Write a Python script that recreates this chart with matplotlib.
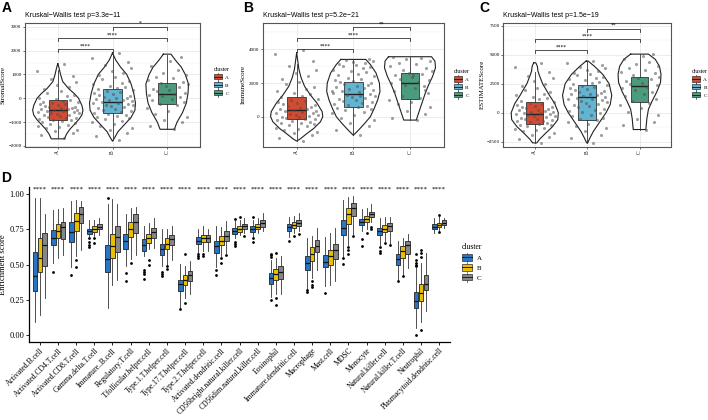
import matplotlib
matplotlib.use("Agg")
import matplotlib.pyplot as plt
from matplotlib.legend_handler import HandlerBase
from matplotlib.lines import Line2D
from matplotlib.patches import Patch, Rectangle

plt.rcParams["font.family"] = ["Liberation Serif", "DejaVu Serif"]
plt.rcParams["axes.unicode_minus"] = True
SANS = ["Liberation Sans", "DejaVu Sans"]

# ---------------- data: panels A-C ----------------
clusters = ["A", "B", "C"]
top_colors = ["#D24B32", "#62B4D0", "#4B9B7C"]

# shared jitter offsets (x units) for the dots
jitter = [0.12, -0.31, 0.27, -0.05, 0.36, -0.22, 0.02, -0.37, 0.18, -0.14,
          0.31, -0.28, 0.08, 0.24, -0.09, -0.34, 0.15, 0.33, -0.18, 0.04,
          -0.26, 0.21, -0.02, 0.38, -0.12, 0.29, -0.36, 0.10, -0.20, 0.35,
          -0.07, 0.19, -0.30, 0.06, 0.26, -0.16, 0.32, -0.24, 0.00, -0.33,
          0.14, -0.10, 0.37, -0.27, 0.09, 0.23, -0.04, -0.35, 0.17, 0.30,
          -0.19, 0.05, -0.25, 0.20, -0.01, 0.34, -0.13, 0.28, -0.38, 0.11]

# StromalScore
stromal_violin = [
    [(1450, 0.0), (1300, 0.02), (1000, 0.05), (700, 0.09), (400, 0.2), (200, 0.3),
     (0, 0.38), (-300, 0.44), (-500, 0.46), (-700, 0.44), (-900, 0.38),
     (-1100, 0.3), (-1300, 0.22), (-1500, 0.16), (-1700, 0.12)],
    [(1900, 0.0), (1600, 0.06), (1300, 0.15), (1000, 0.26), (600, 0.34), (200, 0.39),
     (-200, 0.42), (-500, 0.41), (-800, 0.34), (-1100, 0.22), (-1400, 0.1),
     (-1650, 0.04), (-1800, 0.0)],
    [(1850, 0.07), (1600, 0.15), (1300, 0.26), (1000, 0.33), (600, 0.39), (200, 0.38),
     (-200, 0.35), (-600, 0.28), (-1000, 0.18), (-1300, 0.13)],
]
stromal_q1 = [-917, -608, -221]
stromal_med = [-500, -150, 183]
stromal_q3 = [-54, 392, 642]
stromal_lo = [-1680, -1750, -1290]
stromal_hi = [1200, 1890, 1820]
stromal_pts = [
    [-1680, -1560, -1450, -1380, -1320, -1260, -1210, -1160, -1120, -1080, -1040, -1000,
     -960, -930, -900, -870, -840, -810, -780, -750, -720, -690, -660, -630, -600, -580,
     -560, -540, -520, -500, -480, -460, -440, -420, -395, -370, -345, -320, -290, -260,
     -230, -200, -170, -140, -100, -60, -20, 30, 90, 150, 220, 300, 380, 470, 570, 680,
     800, 950, 1150, 1430],
    [-1750, -1600, -1450, -1350, -1250, -1150, -1080, -1000, -940, -880, -830, -780, -730,
     -690, -650, -610, -570, -530, -490, -450, -410, -370, -330, -300, -270, -240, -210,
     -180, -150, -120, -90, -60, -30, 0, 30, 70, 110, 150, 190, 230, 270, 310, 350, 390,
     430, 480, 530, 590, 650, 720, 800, 880, 960, 1050, 1150, 1260, 1380, 1520, 1700, 1880],
    [-1290, -1150, -1000, -900, -780, -650, -520, -400, -300, -220, -150, -80, -20, 40,
     100, 150, 190, 240, 290, 340, 400, 460, 520, 580, 640, 700, 760, 830, 900, 980,
     1080, 1200, 1350, 1550, 1750],
]
stromal_sig_y = [2070, 2520, 3000]
stromal_sig = ["****", "****", "*"]

# ImmuneScore
immune_violin = [
    [(3800, 0.0), (3300, 0.02), (2800, 0.04), (2300, 0.08), (1800, 0.14), (1300, 0.24),
     (800, 0.36), (300, 0.45), (0, 0.46), (-300, 0.42), (-700, 0.3), (-1000, 0.18),
     (-1300, 0.07), (-1450, 0.0)],
    [(3400, 0.22), (3100, 0.3), (2600, 0.4), (2000, 0.46), (1500, 0.47), (1000, 0.43),
     (500, 0.37), (0, 0.3), (-400, 0.2), (-800, 0.09), (-1100, 0.0)],
    [(3560, 0.38), (3300, 0.44), (2900, 0.45), (2400, 0.4), (1900, 0.33), (1400, 0.27),
     (900, 0.22), (400, 0.17), (0, 0.13), (-200, 0.11)],
]
immune_q1 = [-155, 558, 1033]
immune_med = [400, 1347, 2018]
immune_q3 = [1150, 2077, 2611]
immune_lo = [-1450, -1080, -200]
immune_hi = [3100, 3400, 3560]
immune_pts = [
    [-1450, -1250, -1100, -980, -880, -800, -720, -650, -580, -520, -460, -400, -350,
     -300, -250, -200, -160, -120, -80, -40, 0, 40, 80, 120, 160, 200, 240, 280, 320,
     360, 400, 440, 480, 530, 580, 630, 680, 740, 800, 860, 930, 1000, 1080, 1150, 1230,
     1320, 1420, 1530, 1650, 1780, 1920, 2080, 2250, 2420, 2600, 2800, 3000, 3300, 3750, 3950],
    [-1080, -800, -550, -350, -200, -50, 80, 200, 300, 380, 450, 520, 580, 640, 700, 760,
     820, 880, 940, 1000, 1060, 1120, 1180, 1240, 1300, 1350, 1400, 1460, 1520, 1580,
     1640, 1700, 1760, 1820, 1880, 1940, 2000, 2060, 2120, 2180, 2250, 2320, 2400, 2480,
     2560, 2640, 2720, 2800, 2880, 2950, 3020, 3080, 3140, 3200, 3260, 3320, 3380, 3400,
     1550, 1250],
    [-200, -50, 150, 350, 550, 750, 900, 1000, 1100, 1250, 1400, 1550, 1700, 1800, 1900,
     2000, 2050, 2150, 2250, 2350, 2450, 2550, 2600, 2700, 2800, 2900, 3000, 3100, 3200,
     3300, 3400, 3500, 3550, 2500, 1600],
]
immune_sig_y = [4000, 4650, 5300]
immune_sig = ["****", "****", "**"]

# ESTIMATEScore
estimate_violin = [
    [(4300, 0.02), (4000, 0.05), (3600, 0.06), (3200, 0.09), (2500, 0.15), (1500, 0.28),
     (800, 0.38), (0, 0.45), (-600, 0.44), (-1200, 0.34), (-1800, 0.2), (-2300, 0.09),
     (-2600, 0.04)],
    [(4450, 0.02), (4000, 0.14), (3300, 0.3), (2500, 0.42), (1500, 0.47), (700, 0.44),
     (0, 0.36), (-800, 0.24), (-1600, 0.12), (-2200, 0.05), (-2600, 0.01)],
    [(5050, 0.17), (4600, 0.3), (4000, 0.38), (3300, 0.41), (2600, 0.4), (1800, 0.33),
     (1000, 0.24), (300, 0.17), (-500, 0.14), (-1000, 0.13), (-1450, 0.12)],
]
estimate_q1 = [-974, -629, 948]
estimate_med = [-112, 1327, 2302]
estimate_q3 = [897, 2388, 3103]
estimate_lo = [-2600, -2600, -1450]
estimate_hi = [3500, 4440, 5050]
estimate_pts = [
    [-2600, -2300, -2100, -1900, -1750, -1600, -1480, -1380, -1280, -1180, -1100, -1020,
     -950, -880, -810, -740, -680, -620, -560, -500, -440, -380, -320, -260, -200, -150,
     -100, -50, 0, 50, 100, 150, 200, 260, 320, 380, 450, 520, 600, 680, 760, 850, 950,
     1050, 1150, 1260, 1380, 1500, 1630, 1780, 1950, 2100, 2300, 2500, 2700, 2950, 3200,
     3500, 3900, 4300],
    [-2600, -2200, -1900, -1600, -1350, -1150, -950, -800, -660, -540, -420, -300, -180,
     -60, 50, 160, 260, 360, 450, 540, 630, 720, 810, 900, 980, 1060, 1140, 1220, 1300,
     1370, 1440, 1510, 1580, 1650, 1730, 1810, 1890, 1970, 2050, 2130, 2220, 2310, 2400,
     2490, 2580, 2680, 2780, 2880, 2990, 3100, 3220, 3340, 3460, 3580, 3700, 3830, 3960,
     4100, 4250, 4440],
    [-1450, -1100, -800, -500, -200, 100, 400, 650, 850, 1000, 1200, 1400, 1600, 1800,
     1950, 2100, 2250, 2350, 2450, 2600, 2750, 2900, 3000, 3100, 3250, 3400, 3550, 3700,
     3850, 4000, 4200, 4400, 4600, 4850, 5050],
]
estimate_sig_y = [5400, 6330, 7240]
estimate_sig = ["****", "****", "**"]

sig_pairs = [(1, 2), (1, 3), (2, 3)]

# ---------------- data: panel D ----------------
cells = ["Activated.B.cell", "Activated.CD4.T.cell", "Activated.CD8.T.cell",
         "Gamma.delta.T.cell", "Immature..B.cell", "Regulatory.T.cell",
         "T.follicular.helper.cell", "Type.1.T.helper.cell", "Type.17.T.helper.cell",
         "Type.2.T.helper.cell", "Activated.dendritic.cell",
         "CD56bright.natural.killer.cell", "CD56dim.natural.killer.cell", "Eosinophil",
         "Immature.dendritic.cell", "Macrophage", "Mast.cell", "MDSC", "Monocyte",
         "Natural.killer.cell", "Natural.killer.T.cell", "Neutrophil",
         "Plasmacytoid.dendritic.cell"]
d_signif = ["****"] * 23
d_colors = ["#2874C5", "#EABF00", "#868686"]

a_q1 = [0.31, 0.64, 0.66, 0.72, 0.45, 0.61, 0.60, 0.57, 0.31, 0.65, 0.58, 0.72, 0.73,
        0.36, 0.74, 0.46, 0.48, 0.71, 0.78, 0.71, 0.50, 0.19, 0.75]
a_med = [0.42, 0.69, 0.73, 0.74, 0.54, 0.67, 0.64, 0.61, 0.36, 0.67, 0.63, 0.74, 0.75,
         0.405, 0.77, 0.51, 0.52, 0.76, 0.805, 0.74, 0.54, 0.24, 0.77]
a_q3 = [0.59, 0.745, 0.805, 0.757, 0.64, 0.72, 0.68, 0.65, 0.39, 0.695, 0.67, 0.76, 0.775,
        0.44, 0.786, 0.56, 0.567, 0.82, 0.826, 0.76, 0.576, 0.305, 0.79]
a_lo = [0.09, 0.51, 0.48, 0.70, 0.195, 0.49, 0.56, 0.49, 0.19, 0.58, 0.48, 0.69, 0.70,
        0.27, 0.695, 0.33, 0.345, 0.55, 0.74, 0.64, 0.39, 0.05, 0.726]
a_hi = [0.975, 0.886, 0.95, 0.817, 0.93, 0.857, 0.774, 0.75, 0.507, 0.75, 0.774, 0.81,
        0.82, 0.53, 0.838, 0.69, 0.70, 0.957, 0.893, 0.833, 0.667, 0.476, 0.833]
a_out = [[], [0.445], [0.426], [0.686, 0.662, 0.643, 0.629], [0.971], [0.44, 0.386],
         [0.464, 0.448, 0.433, 0.40], [0.448, 0.433, 0.417], [0.186], [0.576, 0.562, 0.55],
         [0.462, 0.424], [0.826, 0.662, 0.648, 0.631], [0.838, 0.686, 0.662],
         [0.576, 0.567, 0.552, 0.25], [0.671], [0.321, 0.305], [0.295], [0.548, 0.505],
         [0.679, 0.636], [0.626, 0.60, 0.583], [0.386],
         [0.576, 0.536, 0.512, 0.50, 0.488, 0.0], []]

b_q1 = [0.45, 0.686, 0.738, 0.733, 0.548, 0.695, 0.652, 0.614, 0.352, 0.662, 0.643, 0.733,
        0.75, 0.393, 0.762, 0.529, 0.50, 0.79, 0.805, 0.733, 0.548, 0.243, 0.767]
b_med = [0.548, 0.738, 0.81, 0.755, 0.631, 0.75, 0.688, 0.65, 0.388, 0.69, 0.671, 0.755,
         0.769, 0.433, 0.781, 0.576, 0.56, 0.857, 0.826, 0.757, 0.595, 0.298, 0.781]
b_q3 = [0.69, 0.79, 0.869, 0.774, 0.719, 0.805, 0.721, 0.686, 0.424, 0.714, 0.702, 0.774,
        0.786, 0.471, 0.802, 0.626, 0.607, 0.90, 0.845, 0.781, 0.633, 0.362, 0.798]
b_lo = [0.143, 0.548, 0.56, 0.702, 0.357, 0.543, 0.612, 0.50, 0.262, 0.595, 0.56, 0.714,
        0.726, 0.29, 0.726, 0.405, 0.357, 0.638, 0.75, 0.667, 0.429, 0.095, 0.738]
b_hi = [0.976, 0.893, 0.957, 0.821, 0.964, 0.90, 0.798, 0.755, 0.493, 0.774, 0.767, 0.821,
        0.833, 0.548, 0.845, 0.702, 0.726, 0.981, 0.90, 0.838, 0.69, 0.512, 0.845]
b_out = [[], [], [0.536, 0.481], [0.686, 0.657], [], [0.512], [0.536, 0.495], [0.49, 0.47],
         [0.576, 0.226], [0.576, 0.56], [0.548, 0.512], [0.838], [], [0.583, 0.262, 0.214],
         [0.702], [0.381, 0.357, 0.338], [], [0.624, 0.607, 0.576], [0.726], [0.655],
         [0.421], [0.607, 0.583, 0.552, 0.036], [0.85, 0.733]]

c_q1 = [0.488, 0.683, 0.798, 0.75, 0.59, 0.726, 0.69, 0.638, 0.381, 0.662, 0.671, 0.755,
        0.767, 0.40, 0.774, 0.588, 0.543, 0.845, 0.838, 0.738, 0.576, 0.321, 0.781]
c_med = [0.638, 0.769, 0.862, 0.769, 0.698, 0.802, 0.733, 0.681, 0.424, 0.69, 0.707, 0.774,
         0.793, 0.448, 0.798, 0.631, 0.607, 0.90, 0.857, 0.774, 0.643, 0.362, 0.798]
c_q3 = [0.726, 0.805, 0.912, 0.786, 0.774, 0.857, 0.762, 0.714, 0.457, 0.714, 0.738, 0.79,
        0.814, 0.488, 0.817, 0.674, 0.648, 0.94, 0.876, 0.798, 0.671, 0.424, 0.814]
c_lo = [0.262, 0.567, 0.607, 0.714, 0.393, 0.567, 0.619, 0.536, 0.29, 0.595, 0.583, 0.726,
        0.738, 0.29, 0.738, 0.464, 0.381, 0.719, 0.80, 0.648, 0.476, 0.167, 0.762]
c_hi = [0.857, 0.90, 0.952, 0.833, 0.929, 0.912, 0.833, 0.774, 0.524, 0.75, 0.81, 0.829,
        0.869, 0.56, 0.864, 0.762, 0.762, 0.988, 0.933, 0.84, 0.719, 0.583, 0.833]
c_out = [[], [], [], [], [], [], [], [], [], [], [0.571], [0.702], [], [], [0.719], [], [],
         [0.702], [0.768, 0.757], [0.638], [], [], []]


class BoxKey(HandlerBase):
    """legend key that looks like a small boxplot"""

    def create_artists(self, legend, orig_handle, xdescent, ydescent, width, height,
                       fontsize, trans):
        cx = width / 2 - xdescent
        y0 = -ydescent
        stem = Line2D([cx, cx], [y0 - 0.25 * height, y0 + 1.25 * height],
                      color="#333333", lw=0.5, transform=trans)
        box = Rectangle((-xdescent, y0), width, height, facecolor=orig_handle.get_facecolor(),
                        edgecolor="#333333", lw=0.5, transform=trans)
        mid = Line2D([-xdescent, width - xdescent], [y0 + height / 2] * 2,
                     color="#222222", lw=0.7, transform=trans)
        return [stem, box, mid]


def draw_top(ax, violin, pts, q1, med, q3, lo, hi, ylim, yticks, ylabel, title,
             sig_y, sig, label_x):
    for i in range(3):
        x = i + 1
        ys = [p[0] for p in violin[i]]
        ws = [p[1] for p in violin[i]]
        left = [x - w for w in ws]
        right = [x + w for w in ws]
        ax.fill_betweenx(ys, left, right, facecolor="white", edgecolor="none", zorder=2)
        ax.plot(left + right[::-1] + [left[0]], ys + ys[::-1] + [ys[0]],
                color="#222222", lw=0.8, zorder=2.5)
        ax.bxp([dict(med=med[i], q1=q1[i], q3=q3[i], whislo=lo[i], whishi=hi[i], fliers=[])],
               positions=[x], widths=0.33, patch_artist=True, showcaps=False,
               boxprops=dict(facecolor=top_colors[i], edgecolor="#333333", lw=0.6),
               medianprops=dict(color="#222222", lw=1.0),
               whiskerprops=dict(color="#333333", lw=0.6), zorder=3)
        vals = pts[i]
        ax.scatter([x + j for j in jitter[:len(vals)]], vals, s=5, c="#505050",
                   alpha=0.55, lw=0, zorder=4)

    tip = 0.025 * (ylim[1] - ylim[0])
    for (g1, g2), yv, lab in zip(sig_pairs, sig_y, sig):
        ax.plot([g1, g1, g2, g2], [yv - tip, yv, yv, yv - tip], color="#333333", lw=0.6,
                zorder=5)
        ax.text((g1 + g2) / 2, yv + 0.2 * tip, lab, ha="center", va="bottom", fontsize=4,
                zorder=5)

    ax.set_xlim(0.4, 3.6)
    ax.set_ylim(*ylim)
    ax.set_xticks([1, 2, 3])
    ax.set_xticklabels(clusters, rotation=90, fontsize=4)
    ax.set_yticks(yticks)
    ax.set_yticks([(a + b) / 2 for a, b in zip(yticks[:-1], yticks[1:])], minor=True)
    ax.tick_params(axis="y", which="major", labelsize=3.6, length=1.5, width=0.4, pad=1)
    ax.tick_params(axis="x", which="major", length=1.5, width=0.4, pad=1)
    ax.tick_params(which="minor", length=0)
    ax.grid(which="major", color="#e4e4e4", lw=0.5)
    ax.grid(which="minor", color="#f0f0f0", lw=0.3)
    ax.set_axisbelow(True)
    for s in ax.spines.values():
        s.set_color("#555555")
        s.set_linewidth(0.8)
    ax.set_ylabel(ylabel, fontsize=5)
    ax.yaxis.set_label_coords(label_x, 0.5)
    ax.text(0.0, 1.06, title, transform=ax.transAxes, ha="left", va="center",
            fontsize=5, family=SANS)


fig = plt.figure(figsize=(7.08, 4.2), dpi=100)

axA = fig.add_axes([0.0353, 0.6507, 0.2472, 0.2953])
axB = fig.add_axes([0.3710, 0.6507, 0.2561, 0.2953])
axC = fig.add_axes([0.7109, 0.6507, 0.2368, 0.2953])

draw_top(axA, stromal_violin, stromal_pts, stromal_q1, stromal_med, stromal_q3,
         stromal_lo, stromal_hi, (-2030, 3170), [-2000, -1000, 0, 1000, 2000, 3000],
         "StromalScore", "Kruskal\u2212Wallis test p=3.3e\u221211",
         stromal_sig_y, stromal_sig, -0.11)
draw_top(axB, immune_violin, immune_pts, immune_q1, immune_med, immune_q3,
         immune_lo, immune_hi, (-1780, 5580), [0, 2000, 4000],
         "ImmuneScore", "Kruskal\u2212Wallis test p=5.2e\u221221",
         immune_sig_y, immune_sig, -0.092)
draw_top(axC, estimate_violin, estimate_pts, estimate_q1, estimate_med, estimate_q3,
         estimate_lo, estimate_hi, (-2930, 7760), [-2500, 0, 2500, 5000, 7500],
         "ESTIMATEScore", "Kruskal\u2212Wallis test p=1.5e\u221219",
         estimate_sig_y, estimate_sig, -0.109)
# minor gridlines between/below the major ticks in B
axB.set_yticks([-1000, 1000, 3000, 5000], minor=True)

leg_handles = [Patch(facecolor=c, label=l) for c, l in zip(top_colors, clusters)]
for xa, ya in [(0.2966, 0.85), (0.6356, 0.845), (0.9718, 0.845)]:
    fig.legend(handles=leg_handles, handler_map={Patch: BoxKey()}, loc="upper left",
               bbox_to_anchor=(xa, ya), frameon=False, title="cluster", fontsize=3.8,
               title_fontsize=4.2, handlelength=1.6, handleheight=1.1, labelspacing=0.5,
               handletextpad=0.6, borderpad=0.2, alignment="left")

# ---------------- panel D ----------------
axD = fig.add_axes([0.041, 0.1857, 0.5946, 0.3700])
d_stats = [(a_q1, a_med, a_q3, a_lo, a_hi, a_out),
           (b_q1, b_med, b_q3, b_lo, b_hi, b_out),
           (c_q1, c_med, c_q3, c_lo, c_hi, c_out)]
for k, (q1, med, q3, lo, hi, out) in enumerate(d_stats):
    stats = [dict(med=med[i], q1=q1[i], q3=q3[i], whislo=lo[i], whishi=hi[i],
                  fliers=out[i]) for i in range(len(cells))]
    pos = [i + 1 + (k - 1) * 0.27 for i in range(len(cells))]
    axD.bxp(stats, positions=pos, widths=0.26, patch_artist=True, showcaps=False,
            boxprops=dict(facecolor=d_colors[k], edgecolor="#222222", lw=0.6),
            medianprops=dict(color="#111111", lw=0.9),
            whiskerprops=dict(color="#333333", lw=0.6),
            flierprops=dict(marker="o", markersize=2.0, markerfacecolor="black",
                            markeredgecolor="black", markeredgewidth=0))
for i, s in enumerate(d_signif):
    axD.text(i + 1, 1.035, s, ha="center", va="center", fontsize=5)

axD.set_xlim(0.4, len(cells) + 0.6)
axD.set_ylim(-0.05, 1.055)
axD.set_xticks(range(1, len(cells) + 1))
axD.set_xticklabels(cells, rotation=45, ha="right", rotation_mode="anchor", fontsize=5.5)
axD.set_yticks([0, 0.25, 0.5, 0.75, 1.0])
axD.set_yticklabels(["0.00", "0.25", "0.50", "0.75", "1.00"], fontsize=6)
axD.tick_params(length=2, width=0.6, pad=1.5)
axD.spines["top"].set_visible(False)
axD.spines["right"].set_visible(False)
axD.spines["left"].set_linewidth(0.9)
axD.spines["bottom"].set_linewidth(0.9)
axD.set_ylabel("Enrichment score", fontsize=6.2)
axD.yaxis.set_label_coords(-0.052, 0.5)

d_handles = [Patch(facecolor=c, label=l) for c, l in zip(d_colors, clusters)]
fig.legend(handles=d_handles, handler_map={Patch: BoxKey()}, loc="upper left",
           bbox_to_anchor=(0.6455, 0.4333), frameon=False, title="cluster", fontsize=5,
           title_fontsize=5.5, handlelength=1.5, handleheight=1.0, labelspacing=0.5,
           handletextpad=0.7, borderpad=0.2, alignment="left")

for lab, xf, yf in [("A", 0.002, 0.997), ("B", 0.343, 0.997), ("C", 0.677, 0.997),
                    ("D", 0.002, 0.593)]:
    fig.text(xf, yf, lab, fontsize=10, fontweight="bold", family=SANS, va="top", ha="left")

fig.savefig("out.png", dpi=100)
